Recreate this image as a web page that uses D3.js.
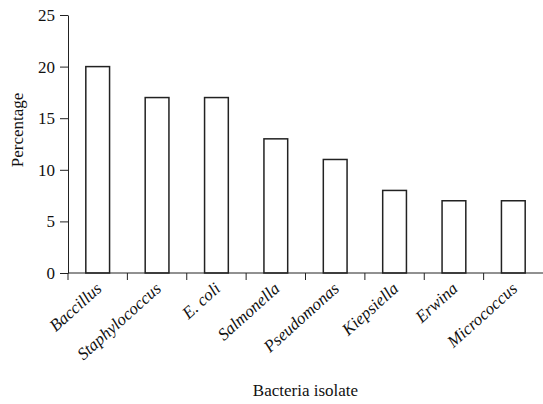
<!DOCTYPE html>
<html>
<head>
<meta charset="utf-8">
<script src="https://cdn.jsdelivr.net/npm/d3@7"></script>
<style>
  body { margin: 0; background: #fff; }
  text { font-family: "Liberation Serif", "Times New Roman", serif; fill: #111; }
</style>
</head>
<body>
<div id="chart"></div>
<script>
const isolates = ["Baccillus", "Staphylococcus", "E. coli", "Salmonella", "Pseudomonas", "Kiepsiella", "Erwina", "Micrococcus"];
const percentages = [20, 17, 17, 13, 11, 8, 7, 7];
const yTicks = [0, 5, 10, 15, 20, 25];

const width = 543, height = 404;
const margin = { top: 15, right: 0, bottom: 131, left: 68 };

const svg = d3.select("#chart").append("svg")
  .attr("width", width)
  .attr("height", height);

const x = d3.scaleBand()
  .domain(isolates)
  .range([margin.left, width - margin.right])
  .paddingInner(0.6)
  .paddingOuter(0.3);

const y = d3.scaleLinear()
  .domain([0, 25])
  .range([height - margin.bottom, margin.top]);

// bars
svg.append("g")
  .selectAll("rect")
  .data(isolates)
  .join("rect")
  .attr("x", (d) => x(d))
  .attr("y", (d, i) => y(percentages[i]))
  .attr("width", x.bandwidth())
  .attr("height", (d, i) => y(0) - y(percentages[i]))
  .attr("fill", "#fff")
  .attr("stroke", "#222")
  .attr("stroke-width", 1.5);

// y axis
const yAxis = svg.append("g")
  .attr("transform", `translate(${margin.left},0)`)
  .call(d3.axisLeft(y).tickValues(yTicks).tickSize(8).tickSizeOuter(0).tickPadding(5));
yAxis.selectAll("text").style("font-size", "17px");

// x axis: ticks sit on the band boundaries
const xAxis = svg.append("g")
  .attr("transform", `translate(0,${y(0)})`);
xAxis.append("line")
  .attr("x1", margin.left).attr("x2", width)
  .attr("stroke", "#222");
xAxis.selectAll(".tick")
  .data(isolates)
  .join("line")
  .attr("class", "tick")
  .attr("x1", (d) => x(d) - x.bandwidth() * 0.75)
  .attr("x2", (d) => x(d) - x.bandwidth() * 0.75)
  .attr("y1", 0).attr("y2", 7)
  .attr("stroke", "#222");

xAxis.selectAll(".label")
  .data(isolates)
  .join("text")
  .attr("class", "label")
  .attr("transform", (d) => `translate(${x(d) + x.bandwidth() / 2 + 5},${17}) rotate(-42)`)
  .attr("text-anchor", "end")
  .style("font-size", "17px")
  .style("font-style", "italic")
  .text((d) => d);

svg.selectAll(".domain, .tick line").attr("stroke", "#222");

// axis titles
svg.append("text")
  .attr("transform", `translate(23,${130}) rotate(-90)`)
  .attr("text-anchor", "middle")
  .style("font-size", "17px")
  .text("Percentage");

svg.append("text")
  .attr("x", (margin.left + width) / 2)
  .attr("y", 396)
  .attr("text-anchor", "middle")
  .style("font-size", "17px")
  .text("Bacteria isolate");
</script>
</body>
</html>
